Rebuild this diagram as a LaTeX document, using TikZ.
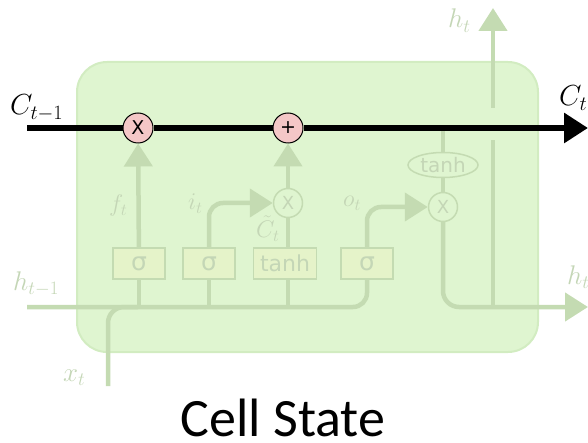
\RequirePackage{fix-cm}
\documentclass[tikz,border=0pt]{standalone}
\usepackage{amsmath}
\usepackage{fontspec}
\setsansfont{DejaVu Sans}
\newfontfamily\titlefont{Carlito}
\usepackage{xcolor}
\usetikzlibrary{arrows.meta,positioning,shapes.geometric}

\definecolor{cellbg}{RGB}{223,245,208}
\definecolor{cellborder}{RGB}{210,236,193}
\definecolor{fadeline}{RGB}{196,219,178}
\definecolor{fadetext}{RGB}{196,214,182}
\definecolor{boxfill}{RGB}{229,243,201}
\definecolor{opfill}{RGB}{244,199,199}

\begin{document}
\begin{tikzpicture}[
  x=1pt, y=-1pt,
  every node/.style={inner sep=0pt},
  cellbody/.style={rectangle, draw=cellborder, fill=cellbg, line width=2pt, rounded corners=30pt, minimum width=461pt, minimum height=290pt},
  gatebox/.style={rectangle, draw=fadeline, fill=boxfill, line width=1.5pt, minimum width=52pt, minimum height=31pt, font=\sffamily\fontsize{25}{26}\selectfont, text=fadetext},
  pointop/.style={circle, draw=black, fill=opfill, line width=1pt, minimum size=30pt, font=\sffamily\fontsize{19}{20}\selectfont},
  fadeop/.style={circle, draw=fadeline, fill=cellbg, line width=1.5pt, minimum size=29pt, font=\sffamily\fontsize{18}{20}\selectfont, text=fadetext},
  fadeellipse/.style={ellipse, draw=fadeline, fill=cellbg, line width=1.5pt, minimum width=70pt, minimum height=25pt, font=\sffamily\fontsize{20}{22}\selectfont, text=fadetext},
  statelabel/.style={anchor=base west, font=\fontsize{29}{34}\selectfont},
  fadelabel/.style={anchor=base west, font=\fontsize{27}{32}\selectfont, text=fadetext},
  gatelabel/.style={anchor=base west, font=\fontsize{24}{28}\selectfont, text=fadetext},
  faint/.style={draw=fadeline, line width=4.5pt},
  faintarrow/.style={faint, -{Triangle[length=23pt, width=28pt]}},
  stateline/.style={draw=black, line width=6.5pt, -{Triangle[length=24pt, width=29pt]}}
]
\useasboundingbox (0,0) rectangle (588,443);

% cell body
\node[cellbody] (cell) at (307.5,207) {};

% free ends
\coordinate (c in) at (27,128);
\coordinate (c out) at (588,128);
\coordinate (h in) at (27,307);
\coordinate (x in) at (108,386);
\coordinate (h out) at (588,307);
\coordinate (h split) at (493,307);
\coordinate (h gap lo) at (493,140);
\coordinate (h gap hi) at (493,108);
\coordinate (h up) at (493,8);

% gates
\node[gatebox] (sig f) at (139,263.5) {σ};
\node[gatebox] (sig i) at (209,263.5) {σ};
\node[gatebox, minimum width=63pt, font=\sffamily\fontsize{22}{24}\selectfont] (tanh c) at (285,263.5) {tanh};
\node[gatebox] (sig o) at (367,263.5) {σ};

% pointwise ops
\node[fadeop] (mul i) at (288,203) {X};
\node[fadeop] (mul o) at (443,207) {X};
\node[fadeellipse] (tanh h) at (443,165) {tanh};

% input bus
\draw[faint, rounded corners=14pt] (h in) -- (sig o.south |- h in) -- (sig o.south);
\draw[faint, rounded corners=16pt] (x in) -- (x in |- h in) -- ([xshift=30pt]x in |- h in);
\draw[faint] (sig f.south) -- (sig f.south |- h in);
\draw[faint] (sig i.south) -- (sig i.south |- h in);
\draw[faint] (tanh c.south -| mul i) -- (mul i |- h in);

% gate outputs
\draw[faint] (tanh c.north -| mul i) -- (mul i);
\draw[faintarrow, rounded corners=14pt] (sig i) |- (mul i);
\draw[faintarrow, rounded corners=14pt] (sig o) |- (mul o);

% output path
\draw[faint] (mul o |- c in) -- (tanh h);
\draw[faint] (tanh h) -- (mul o);
\draw[faintarrow, rounded corners=16pt] (mul o) |- (h out);
\draw[faint] (h split) -- (h gap lo);
\draw[faintarrow] (h gap hi) -- (h up);

% cell state
\node[pointop] (mul f) at (138,128) {X};
\node[pointop] (add c) at (288,128) {+};
\draw[faintarrow] (sig f) -- (mul f);
\draw[faintarrow] (mul i) -- (add c);
\draw[stateline] (c in) -- (mul f) -- (add c) -- (c out);

% labels
\node[statelabel] (c prev lab) at (10,115) {$C_{t-1}$};
\node[statelabel] (c next lab) at (559,106) {$C_t$};
\node[fadelabel] (h prev lab) at (13,290) {$h_{t-1}$};
\node[fadelabel] (h next lab) at (567,284) {$h_t$};
\node[fadelabel] (h top lab) at (448,28) {$h_t$};
\node[fadelabel] (x lab) at (63,381) {$x_t$};
\node[gatelabel] (f lab) at (109,212) {$f_t$};
\node[gatelabel] (i lab) at (188,210) {$i_t$};
\node[gatelabel] (ct lab) at (256,238) {$\tilde{C}_t$};
\node[gatelabel] (o lab) at (343,207) {$o_t$};

% title
\node[anchor=base, font=\titlefont\fontsize{54}{60}\selectfont] (title) at (283,436) {Cell State};
\end{tikzpicture}
\end{document}
